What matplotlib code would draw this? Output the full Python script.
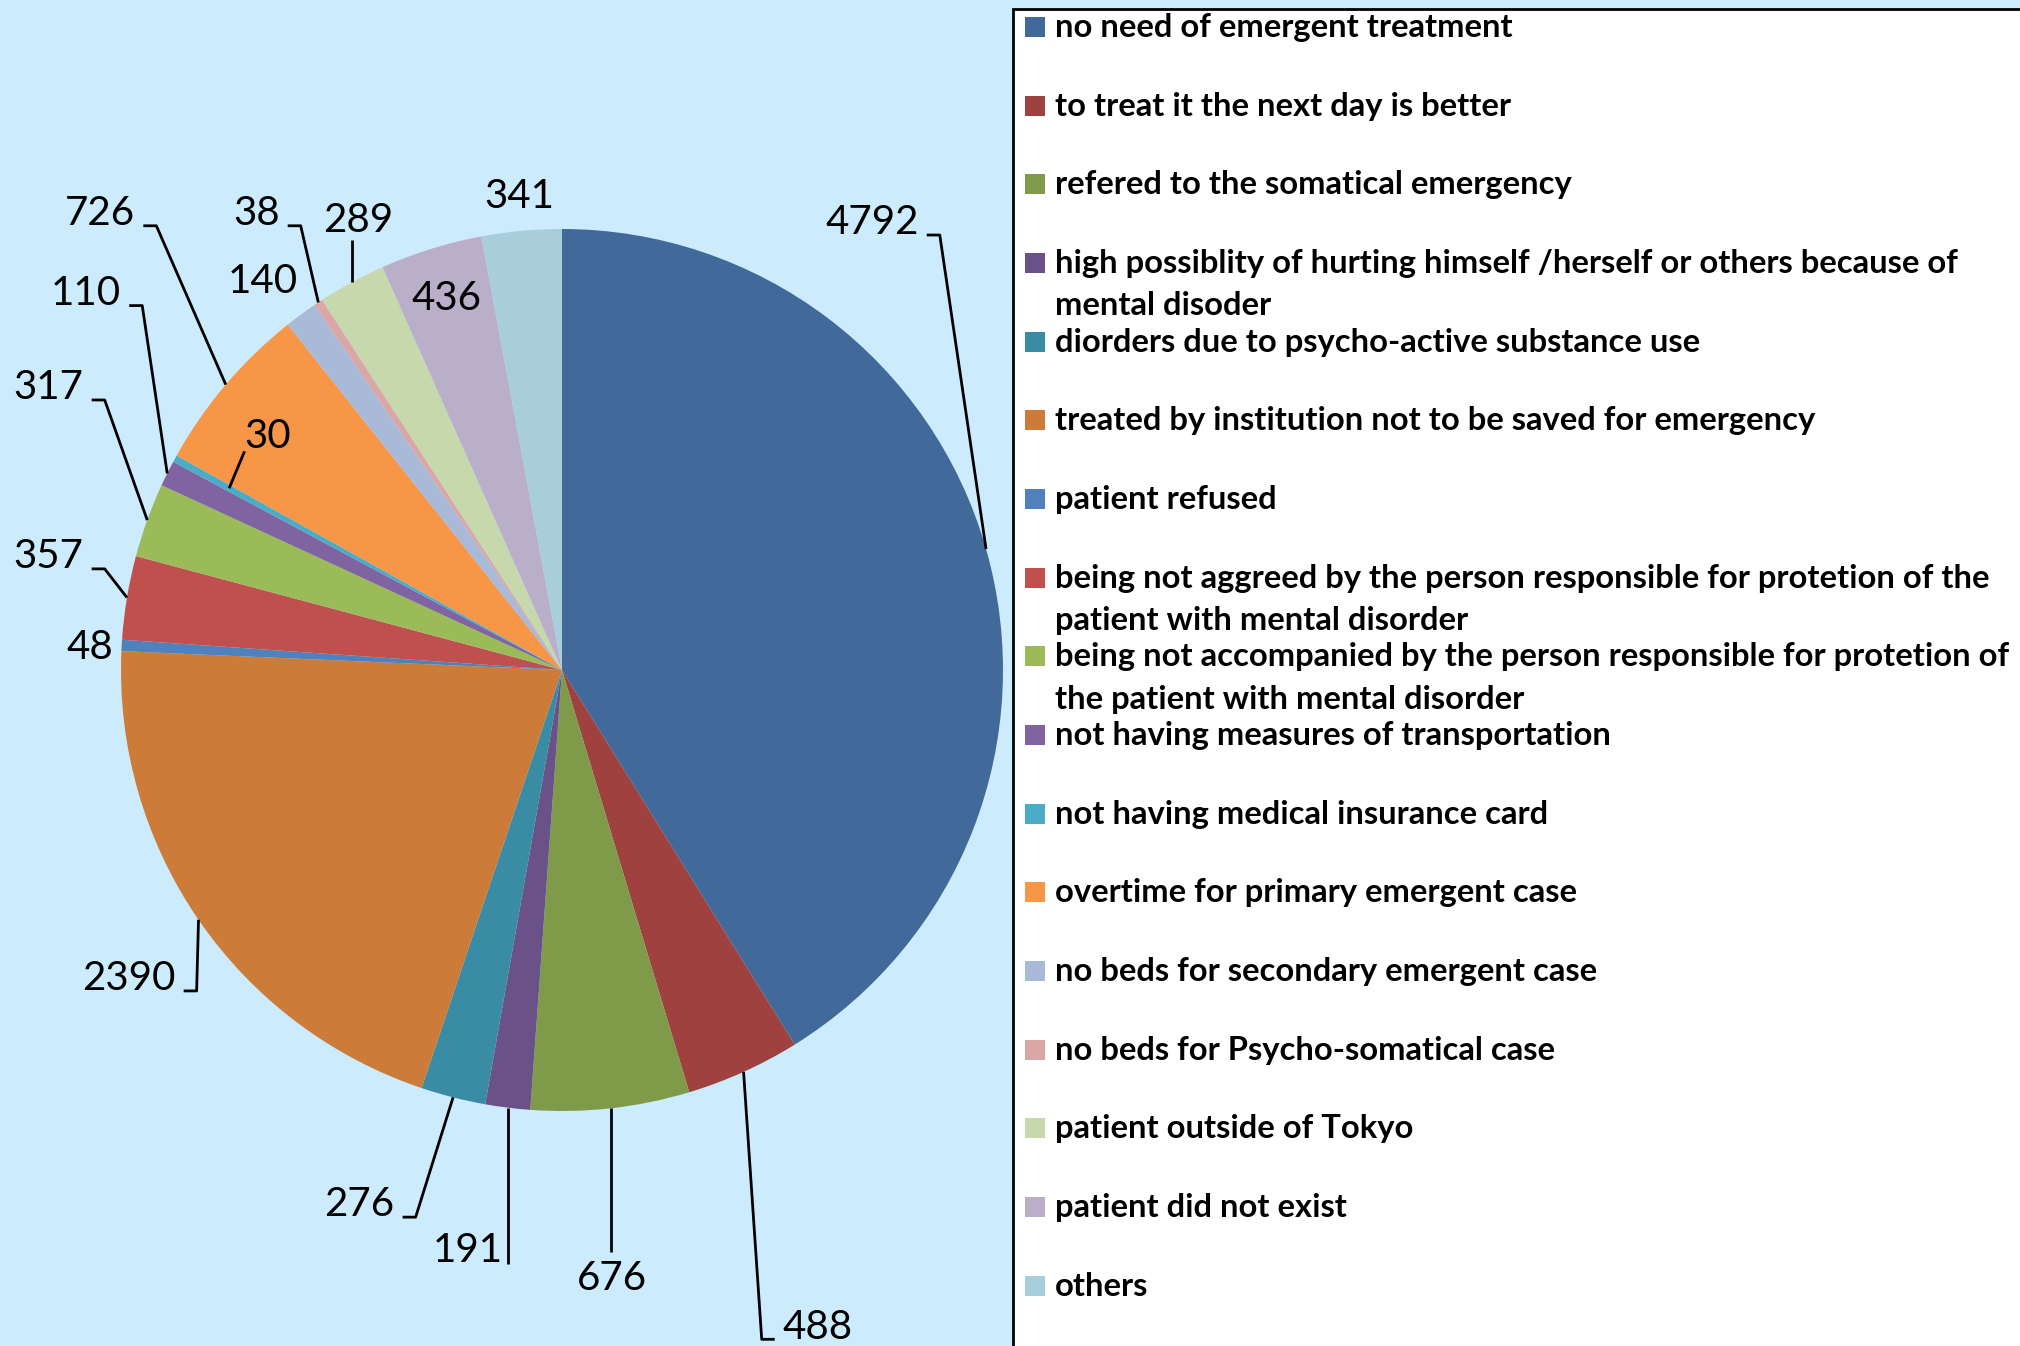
import matplotlib
matplotlib.use("Agg")
import matplotlib.pyplot as plt
import numpy as np
from matplotlib.patches import Rectangle

categories = [
    "no need of emergent treatment",
    "to treat it the next day is better",
    "refered to the somatical emergency",
    "high possiblity of hurting himself /herself or others because of\nmental disoder",
    "diorders due to psycho-active substance use",
    "treated by institution not to be saved for emergency",
    "patient refused",
    "being not aggreed by the person responsible for protetion of the\npatient with mental disorder",
    "being not accompanied by the person responsible for protetion of\nthe patient with mental disorder",
    "not having measures of transportation",
    "not having medical insurance card",
    "overtime for primary emergent case",
    "no beds for secondary emergent case",
    "no beds for Psycho-somatical case",
    "patient outside of Tokyo",
    "patient did not exist",
    "others",
]
values = [4792, 488, 676, 191, 276, 2390, 48, 357, 317, 110, 30, 726, 140, 38, 289, 436, 341]
colors = ["#416A9B", "#9E413F", "#7F9B4A", "#6A5188", "#3A8CA4", "#CD7B39",
          "#4F81BD", "#C0504D", "#9BBB59", "#8064A2", "#4BACC6", "#F79646",
          "#A9BAD8", "#DAA7A6", "#C7D8AD", "#BAAFC9", "#A8CEDC"]

# label placement (center offsets in pie-radius units) and leader style
label_pos = [(0.703, 1.014), (0.58, -1.49), (0.114, -1.38), (-0.213, -1.316),
             (-0.459, -1.213), (-0.982, -0.70), (-1.07, 0.05), (-1.164, 0.257),
             (-1.164, 0.64), (-1.079, 0.854), (-0.667, 0.529), (-1.047, 1.035),
             (-0.678, 0.880), (-0.693, 1.035), (-0.462, 1.02), (-0.263, 0.842),
             (-0.096, 1.073)]
leader = ["r", "l", "t", "rv", "r", "r", "", "r", "r", "r", "bl", "r", "", "r", "b", "", ""]
leader_r = [1.0] * 10 + [0.86] + [1.0] * 6

W, H = 2020, 1346
fig = plt.figure(figsize=(W / 100, H / 100), dpi=100, facecolor="#CCECFE")
ax = fig.add_axes([0, 0, 1, 1])
cx, cy, R = 562, 670, 441

wedges, _ = ax.pie(values, colors=colors, startangle=90, counterclock=False,
                   radius=1, wedgeprops=dict(linewidth=0))
ax.set_xlim(-cx / R, (W - cx) / R)
ax.set_ylim(-(H - cy) / R, cy / R)
ax.set_aspect("auto")
ax.axis("off")

texts = []
for v, (tx, ty) in zip(values, label_pos):
    t = ax.text(tx, ty, str(v), ha="center", va="center", fontsize=29,
                family="Lato", color="black", zorder=5)
    texts.append(t)

fig.canvas.draw()
renderer = fig.canvas.get_renderer()
inv = ax.transData.inverted()
gap = 8 / R
hl = 13 / R
for w, t, mode, lr in zip(wedges, texts, leader, leader_r):
    if not mode:
        continue
    mid = np.deg2rad((w.theta1 + w.theta2) / 2)
    px, py = lr * np.cos(mid), lr * np.sin(mid)
    bb = t.get_window_extent(renderer)
    (x0, y0), (x1, y1) = inv.transform([[bb.x0, bb.y0], [bb.x1, bb.y1]])
    h = y1 - y0
    base = y0 + 0.17 * h
    top = base + 0.62 * h
    if mode == "r":
        hx, hy = x1 + gap, base
        xs, ys = [px, hx + hl, hx], [py, hy, hy]
    elif mode == "rv":
        xs, ys = [px, px], [py, base - 0.004]
    elif mode == "l":
        hx, hy = x0 - gap, base
        xs, ys = [px, hx - hl, hx], [py, hy, hy]
    elif mode == "t":
        xs, ys = [px, px], [py, top + gap * 2]
    elif mode == "b":
        xs, ys = [px, px], [py, base - gap]
    else:  # bl
        xs, ys = [px, x0 + 0.0], [py, base - gap * 0.3]
    ax.plot(xs, ys, color="black", lw=2, solid_capstyle="butt", zorder=4)

# legend box
box = Rectangle((1013 / W, -0.05), 1.0, (H - 9) / H + 0.05, transform=fig.transFigure,
                facecolor="white", edgecolor="black", lw=2, zorder=1)
fig.add_artist(box)
step = 78.66
for i, (lab, c) in enumerate(zip(categories, colors)):
    base = 37 + i * step
    fig.add_artist(Rectangle((1025 / W, (H - base) / H), 20 / W, 20 / H,
                             transform=fig.transFigure, facecolor=c, edgecolor="none", zorder=2))
    for j, line in enumerate(lab.split("\n")):
        fig.text(1055 / W, (H - base - j * 42.5) / H, line, ha="left", va="baseline",
                 fontsize=23.6, fontweight="bold", family="Lato", color="black", zorder=3)

fig.savefig("out.png", dpi=100, facecolor=fig.get_facecolor())
